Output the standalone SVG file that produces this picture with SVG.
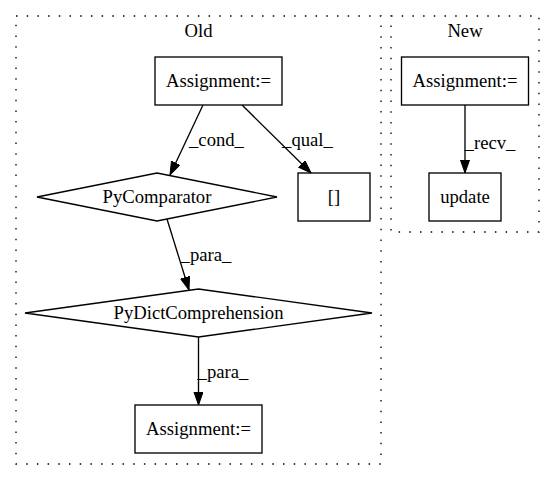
<svg xmlns="http://www.w3.org/2000/svg" width="555" height="480" viewBox="0 0 555 480">
<style>
text{font-family:'Liberation Serif','Times New Roman',serif;font-size:18.67px;fill:#000;text-anchor:middle}
.node{fill:none;stroke:#000;stroke-width:1.33}
.cluster{fill:none;stroke:#000;stroke-width:1.33;stroke-dasharray:1.5,9.2}
.edge{fill:none;stroke:#000;stroke-width:1.33}
</style>
<defs>
<marker id="arr" markerUnits="userSpaceOnUse" markerWidth="14" markerHeight="10" refX="13.3" refY="4.67" orient="auto">
<path d="M0,0 L13.3,4.67 L0,9.33 Z" fill="#000" stroke="#000" stroke-width="1"/>
</marker>
</defs>
<rect width="555" height="480" fill="#fff"/>
<g id="cluster_old">
<rect class="cluster" x="16" y="16" width="365" height="448"/>
<text x="198.5" y="37">Old</text>
</g>
<g id="cluster_new">
<rect class="cluster" x="391" y="16" width="148" height="216"/>
<text x="465" y="37">New</text>
</g>
<g id="edges">
<path class="edge" d="M203,105 L170,175" marker-end="url(#arr)"/>
<text x="216.5" y="146">_cond_</text>
<path class="edge" d="M242,105 L311,173" marker-end="url(#arr)"/>
<text x="307.5" y="146">_qual_</text>
<path class="edge" d="M167,219 L189,290" marker-end="url(#arr)"/>
<text x="206" y="261">_para_</text>
<path class="edge" d="M198.5,337 L198.5,405" marker-end="url(#arr)"/>
<text x="223" y="378">_para_</text>
<path class="edge" d="M465,105 L465,173" marker-end="url(#arr)"/>
<text x="490" y="149">_recv_</text>
</g>
<g id="old_assign_top">
<rect class="node" x="155" y="57" width="127" height="48"/>
<text x="218.5" y="87">Assignment:=</text>
</g>
<g id="pycomparator">
<polygon class="node" points="37,197 157,173 277,197 157,221"/>
<text x="157" y="203">PyComparator</text>
</g>
<g id="brackets">
<rect class="node" x="298" y="173" width="72" height="48"/>
<text x="334" y="203">[]</text>
</g>
<g id="pydictcomp">
<polygon class="node" points="25,313 198.5,289 372,313 198.5,337"/>
<text x="198.5" y="319">PyDictComprehension</text>
</g>
<g id="old_assign_bottom">
<rect class="node" x="135" y="405" width="127" height="48"/>
<text x="198.5" y="435">Assignment:=</text>
</g>
<g id="new_assign">
<rect class="node" x="401.5" y="57" width="127" height="48"/>
<text x="465" y="87">Assignment:=</text>
</g>
<g id="update">
<rect class="node" x="429" y="173" width="72" height="48"/>
<text x="465" y="203">update</text>
</g>
</svg>
